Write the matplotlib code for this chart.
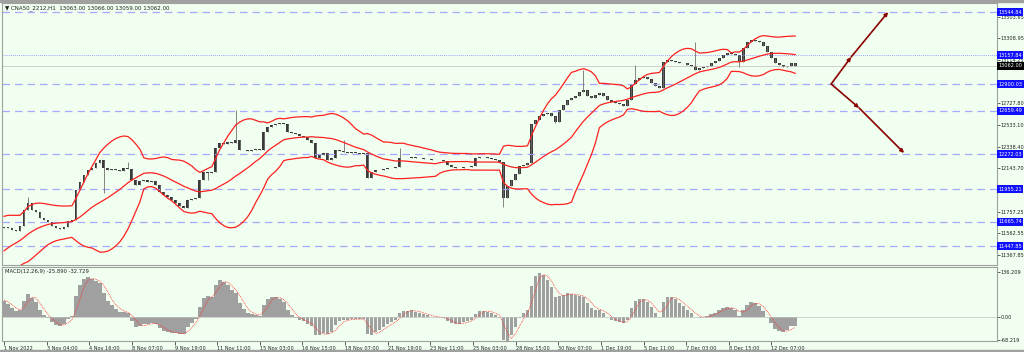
import numpy as np
import pandas as pd
import matplotlib
matplotlib.use('Agg')
import matplotlib.pyplot as plt

# closes before 1 Nov (only used to warm up the indicators, not drawn)
history = [11143, 11126, 11161, 11215, 11233, 11278, 11305, 11341, 11368, 11412,
           11430, 11457, 11502, 11520, 11547, 11573, 11591, 11609]

# CNA50 H1 closes, one value per ~3.4 hours, 1 Nov -> 12 Dec 2022
closes = [
    11618, 11609, 11591, 11582, 11627, 11771, 11833, 11771, 11753, 11699,
    11681, 11663, 11627, 11609, 11600, 11618, 11672, 11681, 11950, 12021,
    12084, 12129, 12147, 12192, 12219, 12147, 12129, 12138, 12129, 12120,
    12147, 12138, 12040, 11995, 12030, 12040, 12021, 12030, 11995, 11932,
    11905, 11887, 11860, 11833, 11806, 11788, 11860, 11869, 11878, 12040,
    12111, 12102, 12111, 12326, 12371, 12362, 12380, 12371, 12398, 12308,
    12308, 12299, 12308, 12317, 12308, 12470, 12514, 12532, 12541, 12550,
    12541, 12470, 12461, 12452, 12434, 12425, 12398, 12371, 12237, 12264,
    12281, 12219, 12237, 12308, 12299, 12290, 12281, 12290, 12281, 12272,
    12281, 12058, 12111, 12129, 12129, 12138, 12147, 12147, 12156, 12237,
    12237, 12237, 12246, 12237, 12237, 12228, 12228, 12219, 12219, 12219,
    12210, 12174, 12156, 12147, 12147, 12156, 12156, 12165, 12237, 12246,
    12246, 12237, 12228, 12219, 12201, 11878, 11986, 12040, 12093, 12165,
    12174, 12192, 12541, 12577, 12613, 12631, 12640, 12613, 12559, 12667,
    12712, 12756, 12774, 12792, 12828, 12846, 12792, 12774, 12801, 12819,
    12792, 12756, 12738, 12729, 12721, 12703, 12756, 12900, 12935, 12953,
    12962, 12944, 12909, 12882, 12864, 13097, 13115, 13106, 13097, 13088,
    13088, 13070, 13061, 13025, 13043, 13052, 13061, 13088, 13106, 13133,
    13160, 13177, 13168, 13160, 13097, 13222, 13276, 13294, 13285, 13276,
    13240, 13186, 13133, 13088, 13070, 13052, 13061, 13088, 13062,
]

# long wicks: bar index -> extreme price
wick_highs = {6: 11887, 31: 12201, 58: 12667, 85: 12398, 99: 12326,
              145: 13025, 158: 13070, 173: 13276}
wick_lows = {25: 11923, 51: 12040, 125: 11798, 138: 12550, 184: 13052}

levels = [13544.84, 12900.03, 12659.49, 12272.03, 11955.21, 11665.74, 11447.85]
dotted_level = 13157.84
current_price = 13062.00
price_ticks = [13503.65, 13308.95, 13114.25, 12727.80, 12533.10,
               12338.40, 12143.70, 11757.25, 11562.55, 11367.85]

date_labels = ['1 Nov 2022', '3 Nov 04:00', '4 Nov 16:00', '8 Nov 07:00', '9 Nov 19:00',
               '11 Nov 11:00', '15 Nov 03:00', '16 Nov 15:00', '18 Nov 07:00',
               '21 Nov 19:00', '23 Nov 11:00', '25 Nov 03:00', '28 Nov 15:00',
               '30 Nov 07:00', '1 Dec 19:00', '5 Dec 11:00', '7 Dec 03:00',
               '8 Dec 15:00', '12 Dec 07:00']

# projected scenario from 12900
proj_start = (207, 12900.03)
proj_up_x = [212, 221.25]
proj_up_y = [13142, 13544.84]
proj_dn_x = [214, 225.25]
proj_dn_y = [12685, 12282]

macd_ticks = [136.209, 0.0, -68.219]

# ---- indicators (one bar here ~ 3.4 H1 bars, periods scaled accordingly)
full = pd.Series(history + closes, dtype=float)
mid = full.rolling(18).mean()
sd = full.rolling(18).std(ddof=0)
upper = (mid + 2 * sd).iloc[len(history):].values
lower = (mid - 2 * sd).iloc[len(history):].values
mid = mid.iloc[len(history):].values

macd_full = full.ewm(span=3.6, adjust=False).mean() - full.ewm(span=7.7, adjust=False).mean()
signal = macd_full.rolling(3).mean().iloc[len(history):].values
macd = macd_full.iloc[len(history):].values

c = np.array(closes, dtype=float)
o = np.concatenate([[history[-1]], c[:-1]])
hi = np.maximum(o, c)
lo = np.minimum(o, c)
for k, v in wick_highs.items():
    hi[k] = max(hi[k], v)
for k, v in wick_lows.items():
    lo[k] = min(lo[k], v)
idx = np.arange(len(c))

bg = '#F0FFF0'
fig = plt.figure(figsize=(10.24, 3.52), dpi=100, facecolor=bg)
ax = fig.add_axes([2 / 1024, 87 / 352, 995 / 1024, 262 / 352], facecolor=bg)
axm = fig.add_axes([2 / 1024, 11 / 352, 995 / 1024, 74 / 352], facecolor=bg)

for a in (ax, axm):
    a.set_xlim(-0.5, 248.5)
    for s in a.spines.values():
        s.set_color('#a0a0a0')
        s.set_linewidth(0.8)
    a.yaxis.tick_right()
    a.tick_params(axis='y', labelsize=3.6, length=2, width=0.5, pad=0.8, colors='#202020')

# levels
for lv in levels:
    ax.axhline(lv, color='#a8a8ff', lw=0.9, dashes=(6, 4))
ax.axhline(dotted_level, color='#8080ff', lw=0.6, ls=(0, (1, 1.5)))
ax.axhline(current_price, color='#c8c8c8', lw=0.6)

# candles
ax.vlines(idx, lo, hi, color='#707070', lw=0.6)
ax.bar(idx, np.abs(c - o) + 6, bottom=np.minimum(o, c) - 3, width=0.7,
       color='#3a3a3a', lw=0)

# bollinger
ax.plot(idx, upper, color='#ff2020', lw=0.9)
ax.plot(idx, mid, color='#ff2020', lw=0.9)
ax.plot(idx, lower, color='#ff2020', lw=0.9)

# projection arrows
aprops = dict(arrowstyle='-|>', color='#8b0000', lw=1.2, mutation_scale=5,
              shrinkA=0, shrinkB=0)
for xs, ys in ((proj_up_x, proj_up_y), (proj_dn_x, proj_dn_y)):
    px, py = proj_start
    for x1, y1 in zip(xs, ys):
        ax.annotate('', xy=(x1, y1), xytext=(px, py), arrowprops=aprops)
        px, py = x1, y1

ax.set_ylim(11278, 13626)
ax.set_yticks(price_ticks)
ax.set_yticklabels([f'{t:.2f}' for t in price_ticks])
ax.set_xticks([])

lbl_tr = ax.get_yaxis_transform()
for lv in levels + [dotted_level]:
    ax.text(1.0012, lv, f'{lv:.2f}', transform=lbl_tr, fontsize=3.6, color='white',
            va='center', ha='left', clip_on=False, zorder=10,
            bbox=dict(boxstyle='square,pad=0.3', fc='#1010ff', ec='none'))
ax.text(1.0012, current_price, f'{current_price:.2f}', transform=lbl_tr, fontsize=3.6,
        color='white', va='center', ha='left', clip_on=False, zorder=10,
        bbox=dict(boxstyle='square,pad=0.3', fc='#000000', ec='none'))

ax.text(0.003, 0.993, '\u25bc CNA50_2212,H1  13063.00 13066.00 13059.00 13062.00',
        transform=ax.transAxes, fontsize=4, va='top', ha='left', color='#202020')

# MACD
axm.bar(idx, macd, width=0.9, color='#a0a0a0', lw=0)
axm.plot(idx, signal, color='#ff3030', lw=0.6, ls=(0, (1, 1)))
axm.axhline(0, color='#c0c0c0', lw=0.5)
axm.set_ylim(-71, 151)
axm.set_yticks(macd_ticks)
axm.set_yticklabels(['136.209', '0.00', '-68.219'])
axm.text(0.003, 0.97, 'MACD(12,26,9) -25.890 -32.729', transform=axm.transAxes,
         fontsize=3.8, va='top', ha='left', color='#202020')

tick_bars = np.arange(len(date_labels)) * 10.67
axm.set_xticks(tick_bars)
axm.set_xticklabels(date_labels)
axm.tick_params(axis='x', labelsize=3.6, length=3, width=0.5, pad=0.5, colors='#202020')
for t in axm.get_xticklabels():
    t.set_ha('left')

fig.patches.append(plt.Rectangle((0, 0.994), 1, 0.006, transform=fig.transFigure,
                                 color='#a0a0a0'))
fig.patches.append(plt.Rectangle((0, 0), 1, 0.005, transform=fig.transFigure,
                                 color='#a0a0a0'))

fig.savefig('out.png', dpi=100, facecolor=bg)
